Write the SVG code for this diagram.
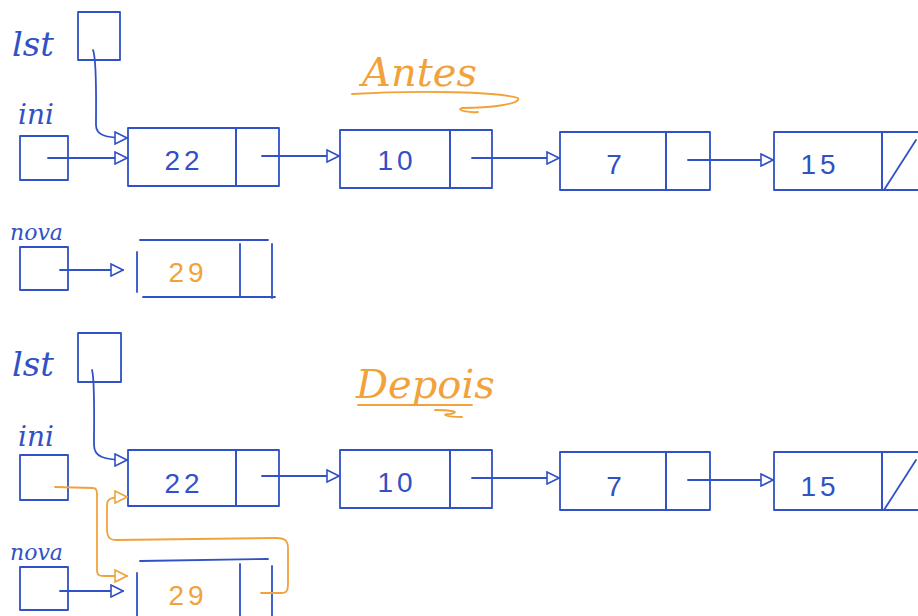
<svg xmlns="http://www.w3.org/2000/svg" width="918" height="616" viewBox="0 0 918 616">
<style>
.b{fill:none;stroke:#3151c6;stroke-width:1.8;stroke-linecap:round;stroke-linejoin:round}
.o{fill:none;stroke:#f2a23a;stroke-width:1.8;stroke-linecap:round;stroke-linejoin:round}
.lbl{font-family:"DejaVu Serif",serif;font-style:italic;fill:#3151c6}
.num{font-family:"Liberation Sans",sans-serif;font-size:28px;fill:#3151c6;text-anchor:middle;letter-spacing:4px}
.numo{font-family:"Liberation Sans",sans-serif;font-size:28px;fill:#f2a23a;text-anchor:middle;letter-spacing:4px}
.ttl{font-family:"DejaVu Serif",serif;font-style:italic;font-size:40px;fill:#f2a23a}
</style>
<defs>
<marker id="ab" viewBox="0 0 14 14" refX="13" refY="7" markerWidth="14" markerHeight="14" markerUnits="userSpaceOnUse" orient="auto">
<path d="M1,1 L13,7 L1,13 Z" fill="#fff" stroke="#3151c6" stroke-width="1.6"/>
</marker>
<marker id="ao" viewBox="0 0 14 14" refX="13" refY="7" markerWidth="14" markerHeight="14" markerUnits="userSpaceOnUse" orient="auto">
<path d="M1,1 L13,7 L1,13 Z" fill="#fff" stroke="#f2a23a" stroke-width="1.6"/>
</marker>
</defs>
<rect width="918" height="616" fill="#fff"/>

<!-- Titles -->
<g id="title-antes">
<text class="ttl" x="362" y="86">Antes</text>
<path class="o" d="M352,94 C420,90 500,92 518,98 C522,104 490,108 462,108 C455,110 470,113 478,112"/>
</g>
<g id="title-depois">
<text class="ttl" x="356" y="398">Depois</text>
<path class="o" d="M358,405 L472,405 M435,410 C450,410 462,412 450,414 C440,414 446,417 462,417"/>
</g>

<!-- TOP: Antes -->
<g id="lst1"><text class="lbl" x="12" y="56" font-size="34">lst</text><rect class="b" x="78" y="12" width="42" height="48"/></g>
<g id="ini1"><text class="lbl" x="18" y="124" font-size="28">ini</text><rect class="b" x="20" y="136" width="48" height="44"/></g>
<g id="n22a"><rect class="b" x="128" y="128" width="108" height="58"/><rect class="b" x="236" y="128" width="43" height="58"/><text class="num" x="184" y="170">22</text></g>
<g id="n10a"><rect class="b" x="340" y="130" width="110" height="58"/><rect class="b" x="450" y="130" width="42" height="58"/><text class="num" x="397" y="170">10</text></g>
<g id="n7a"><rect class="b" x="560" y="132" width="106" height="58"/><rect class="b" x="666" y="132" width="44" height="58"/><text class="num" x="616" y="174">7</text></g>
<g id="n15a"><rect class="b" x="774" y="132" width="108" height="58"/><path class="b" d="M882,132 L918,132 M882,132 L882,190 L918,190 M884,190 L916,140"/><text class="num" x="820" y="174">15</text></g>
<g id="nova1"><text class="lbl" x="10" y="240" font-size="22">nova</text><rect class="b" x="20" y="247" width="48" height="43"/></g>
<g id="n29a"><path class="b" d="M140,240 L268,240 M137,252 L137,292 M143,297 L275,297 M240,244 L240,296 M272,244 L272,298"/><text class="numo" x="188" y="282">29</text></g>

<!-- BOTTOM: Depois -->
<g id="lst2"><text class="lbl" x="12" y="376" font-size="34">lst</text><rect class="b" x="78" y="333" width="43" height="49"/></g>
<g id="ini2"><text class="lbl" x="18" y="446" font-size="28">ini</text><rect class="b" x="20" y="455" width="48" height="45"/></g>
<g id="n22b"><rect class="b" x="128" y="450" width="108" height="56"/><rect class="b" x="236" y="450" width="43" height="56"/><text class="num" x="184" y="493">22</text></g>
<g id="n10b"><rect class="b" x="340" y="450" width="110" height="58"/><rect class="b" x="450" y="450" width="42" height="58"/><text class="num" x="397" y="492">10</text></g>
<g id="n7b"><rect class="b" x="560" y="452" width="106" height="58"/><rect class="b" x="666" y="452" width="44" height="58"/><text class="num" x="616" y="496">7</text></g>
<g id="n15b"><rect class="b" x="774" y="452" width="108" height="58"/><path class="b" d="M882,452 L918,452 M882,452 L882,510 L918,510 M884,510 L916,460"/><text class="num" x="820" y="496">15</text></g>
<g id="nova2"><text class="lbl" x="10" y="560" font-size="22">nova</text><rect class="b" x="20" y="567" width="48" height="43"/></g>
<g id="n29b"><path class="b" d="M140,561 L268,559 M137,573 L137,616 M240,564 L240,616 M272,566 L272,616"/><text class="numo" x="188" y="605">29</text></g>

<!-- Connectors -->
<g id="connectors">
<path class="b" d="M93,50 C97,60 96,100 96,125 C96,135 105,138 127,138" marker-end="url(#ab)"/>
<path class="b" d="M48,158 L127,158" marker-end="url(#ab)"/>
<path class="b" d="M262,156 L339,156" marker-end="url(#ab)"/>
<path class="b" d="M472,158 L559,158" marker-end="url(#ab)"/>
<path class="b" d="M688,160 L773,160" marker-end="url(#ab)"/>
<path class="b" d="M60,270 L123,270" marker-end="url(#ab)"/>

<path class="b" d="M92,370 C95,380 94,420 94,445 C94,457 104,460 127,460" marker-end="url(#ab)"/>
<path class="b" d="M262,476 L339,476" marker-end="url(#ab)"/>
<path class="b" d="M472,478 L559,478" marker-end="url(#ab)"/>
<path class="b" d="M688,480 L773,480" marker-end="url(#ab)"/>
<path class="b" d="M60,591 L123,591" marker-end="url(#ab)"/>

<path class="o" d="M55,487 L93,488 C97,488 97,492 97,496 L97,570 C97,576 100,576 106,576 L127,576" marker-end="url(#ao)"/>
<path class="o" d="M261,593 L282,593 C288,593 288,588 288,582 L288,548 C288,540 284,538 276,538 L116,540 C108,540 107,535 107,528 L107,505 C107,498 112,497 127,497" marker-end="url(#ao)"/>
</g>
</svg>
